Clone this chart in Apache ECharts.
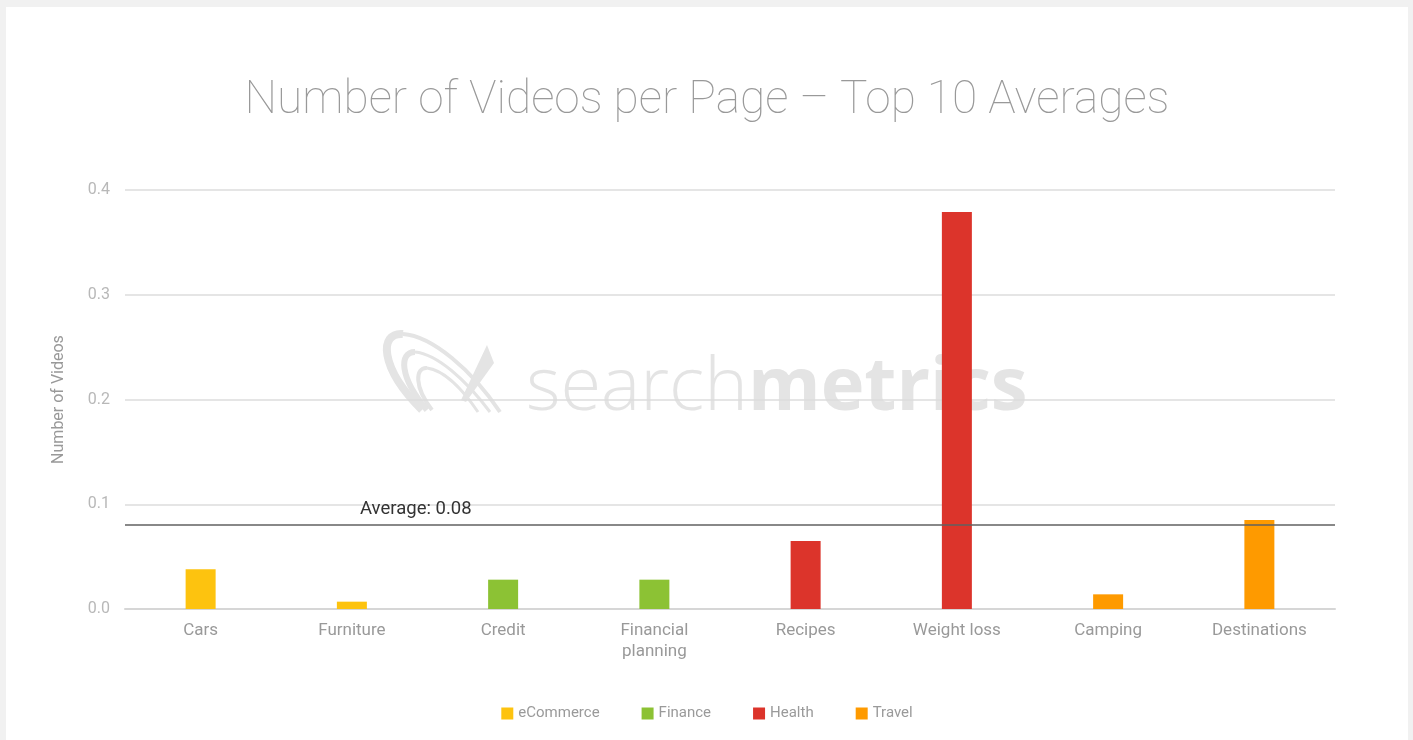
<!DOCTYPE html>
<html>
<head>
<meta charset="utf-8">
<script src="https://cdn.jsdelivr.net/npm/echarts@6/dist/echarts.min.js"></script>
<style>
  html, body { margin: 0; padding: 0; background: #f1f1f1; }
  #chart { position: absolute; left: 6px; top: 7px; width: 1402px; height: 733px; background: #fff; }
</style>
</head>
<body>
<div id="chart"></div>
<script>
const categories = ["Cars", "Furniture", "Credit", "Financial\nplanning", "Recipes", "Weight loss", "Camping", "Destinations"];
const ecommerce = [0.038, 0.007, null, null, null, null, null, null];
const finance = [null, null, 0.028, 0.028, null, null, null, null];
const health = [null, null, null, null, 0.065, 0.379, null, null];
const travel = [null, null, null, null, null, null, 0.014, 0.085];
const average = 0.082;
const yTicks = [0, 0.1, 0.2, 0.3, 0.4];

const colors = { eCommerce: "#fdc30f", Finance: "#8cc234", Health: "#dc342b", Travel: "#fe9a00" };
const font = "Roboto";
const mark = "#e4e4e4";

const chart = echarts.init(document.getElementById("chart"));

function bar(name, data) {
  return {
    name: name,
    type: "bar",
    stack: "all",
    barWidth: 30,
    data: data,
    itemStyle: { color: colors[name] },
    z: 3
  };
}

const series = [
  bar("eCommerce", ecommerce),
  bar("Finance", finance),
  bar("Health", health),
  bar("Travel", travel)
];

series[3].markLine = {
  symbol: "none",
  silent: true,
  lineStyle: { color: "#606060", width: 1.5, type: "solid" },
  label: {
    position: "insideStartTop",
    formatter: "Average: 0.08",
    color: "#333",
    fontFamily: font,
    fontSize: 18.5,
    padding: [0, 0, 0, 229],
    distance: 6
  },
  data: [{ yAxis: average }],
  z: 5
};

// watermark logo swooshes, two cubic pieces each (div coordinates)
function curve(p, w) {
  return {
    type: "bezierCurve",
    shape: { x1: p[0], y1: p[1], cpx1: p[2], cpy1: p[3], cpx2: p[4], cpy2: p[5], x2: p[6], y2: p[7] },
    style: { stroke: mark, lineWidth: w, fill: null },
    z: 0
  };
}

chart.setOption({
  animation: false,
  title: {
    text: "Number of Videos per Page \u2013 Top 10 Averages",
    left: "center",
    top: 66,
    textStyle: { fontFamily: font, fontWeight: 100, fontSize: 46, color: "#999" }
  },
  legend: {
    bottom: 14,
    left: "center",
    icon: "rect",
    itemWidth: 12,
    itemHeight: 12,
    itemGap: 42,
    textStyle: { fontFamily: font, fontSize: 15, color: "#9a9a9a" },
    data: ["eCommerce", "Finance", "Health", "Travel"]
  },
  grid: { left: 119, right: 73, top: 183, bottom: 131 },
  graphic: [
    {
      type: "text",
      x: 520,
      y: 345,
      z: 0,
      style: {
        text: "{a|search}{b|metrics}",
        rich: {
          a: { fontFamily: "Open Sans", fontWeight: 300, fontSize: 74, fill: mark },
          b: { fontFamily: "Open Sans", fontWeight: 700, fontSize: 74, fill: mark }
        }
      }
    },
    curve([416, 403, 373, 360, 373, 325, 397, 327], 8),
    curve([397, 327, 426, 329, 466, 363, 494, 405], 4),
    curve([421, 403, 393, 370, 393, 345, 409, 345], 6),
    curve([409, 345, 431, 347, 460, 373, 484, 405], 3),
    curve([426, 403, 408, 380, 409, 360, 421, 361], 4),
    curve([421, 361, 438, 363, 457, 383, 472, 405], 3),
    { type: "polygon", shape: { points: [[481, 338], [488, 356], [460, 395], [455, 393]] }, style: { fill: mark }, z: 0 }
  ],
  xAxis: {
    type: "category",
    data: categories,
    axisLine: { show: true, lineStyle: { color: "#d6d6d6", width: 2 } },
    axisTick: { show: false },
    axisLabel: { fontFamily: font, fontSize: 17, color: "#999", lineHeight: 21, margin: 11 }
  },
  yAxis: {
    type: "value",
    min: 0,
    max: 0.4,
    interval: 0.1,
    name: "Number of Videos",
    nameLocation: "middle",
    nameGap: 58,
    nameTextStyle: { fontFamily: font, fontSize: 16, color: "#999" },
    axisLine: { show: false },
    axisTick: { show: false },
    axisLabel: {
      fontFamily: font, fontSize: 16, color: "#b8b8b8", margin: 15,
      formatter: v => yTicks.indexOf(Math.round(v * 10) / 10) >= 0 ? v.toFixed(1) : ""
    },
    splitLine: { lineStyle: { color: "#dcdcdc", width: 1.5 } }
  },
  series: series
});
</script>
</body>
</html>
